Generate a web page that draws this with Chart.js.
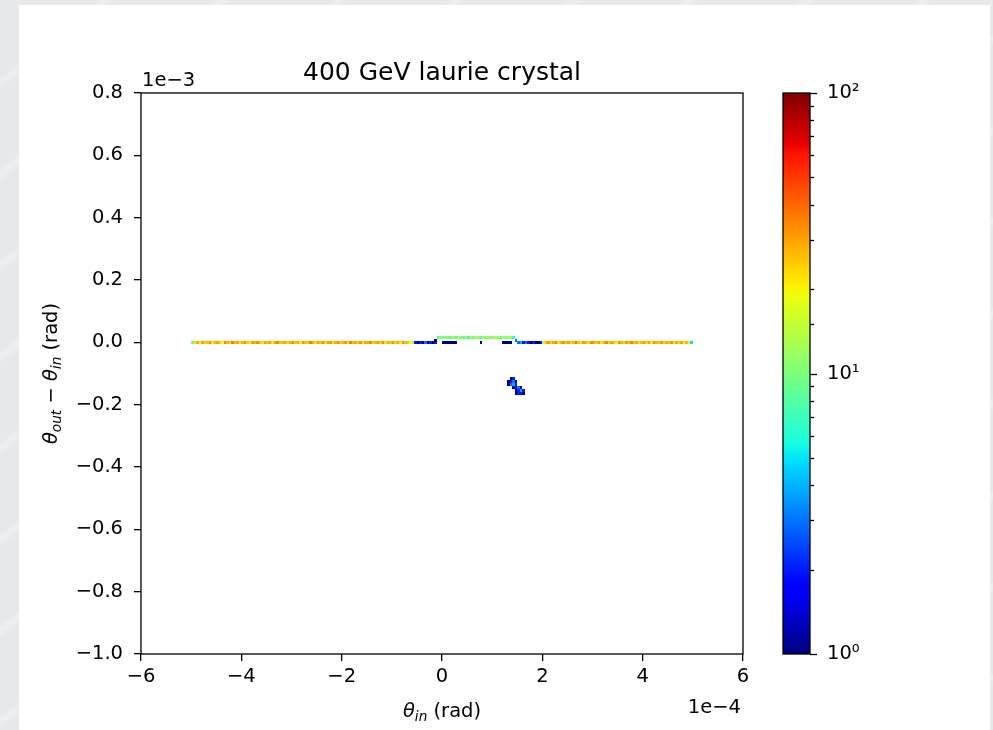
<!DOCTYPE html>
<html>
<head>
<meta charset="utf-8">
<title>400 GeV laurie crystal</title>
<script src="https://cdn.jsdelivr.net/npm/chart.js@4.4.1/dist/chart.umd.min.js"></script>
<style>
  html, body { margin: 0; padding: 0; }
  body {
    width: 993px; height: 730px; overflow: hidden; position: relative;
    background-color: #e7e8ea;
    background-image: repeating-linear-gradient(142deg, #e7e8ea 0px, #e7e8ea 60px, #eeeff0 65px, #e7e8ea 72px);
  }
  #panel { position: absolute; left: 19px; top: 5px; width: 971px; height: 725px; background: #fff; }
  canvas { position: absolute; left: 0; top: 0; }
</style>
</head>
<body>
<div id="panel"></div>
<canvas id="hist" width="993" height="730"></canvas>
<canvas id="cbar" width="993" height="730"></canvas>
<script>
// histogram bins: theta_in in units of 1e-4 rad, deflection in units of 1e-3 rad
const xBinStart = -5;
const xBinWidth = 0.05;
const yBinHeight = 0.01;

// main channel row (deflection ~ 0), one count per theta_in bin, 200 bins
const stripRowY = 0.0;
const stripCounts = [
   9, 22, 28, 19, 31, 24, 26, 33, 21, 27,
  30, 25, 19, 34, 28, 23, 36, 26, 29, 22,
  27, 33, 24, 20, 31, 28, 35, 25, 22, 30,
  26, 32, 21, 29, 36, 24, 27, 31, 23, 28,
  34, 25, 29, 20, 33, 27, 24, 37, 28, 22,
  30, 26, 35, 23, 29, 32, 21, 28, 34, 25,
  27, 31, 22, 36, 26, 29, 24, 33, 20, 30,
  28, 35, 23, 27, 31, 25, 34, 22, 29, 26,
  32, 24, 30, 21, 33, 27, 25, 19, 14,  2,
   1,  2,  1,  3,  1,  2,  1,  2,  0,  0,
   1,  1,  1,  1,  1,  1,  0,  0,  0,  0,
   0,  0,  0,  0,  0,  1,  0,  0,  0,  0,
   0,  0,  0,  0,  1,  1,  1,  1,  0,  0,
   3,  4,  2,  3,  2,  1,  2,  1,  1,  2,
  16, 27, 31, 24, 29, 35, 22, 28, 33, 25,
  30, 23, 27, 36, 26, 21, 32, 28, 24, 34,
  29, 25, 31, 22, 27, 35, 24, 30, 26, 20,
  33, 28, 23, 31, 26, 36, 25, 29, 22, 27,
  32, 24, 30, 21, 34, 27, 25, 31, 23, 28,
  26, 33, 22, 29, 24, 30, 20, 27, 18,  5
];

// channeled row just above, starting at bin 98
const upperRowY = 0.015;
const upperRowFirstBin = 98;
const upperRowCounts = [
   7, 11, 10, 12,  9, 10, 13,  8, 12, 11,
   9, 13,  7, 12, 10, 13, 11,  8, 12, 10,
  13,  9, 12, 14, 11,  8, 12, 10, 13, 11, 6
];

// single cells joining the two rows
const stepRowY = 0.005;
const stepBins = [97, 129];
const stepCounts = [1, 3];

// small volume-reflection cluster below the channel
const clusterX = [
  1.375, 1.425,
  1.325, 1.375, 1.425, 1.475,
  1.325, 1.375, 1.425, 1.475,
  1.425, 1.475, 1.525, 1.575,
  1.475, 1.525, 1.575, 1.625,
  1.475, 1.525, 1.575, 1.625
];
const clusterY = [
  -0.115, -0.115,
  -0.125, -0.125, -0.125, -0.125,
  -0.135, -0.135, -0.135, -0.135,
  -0.145, -0.145, -0.145, -0.145,
  -0.155, -0.155, -0.155, -0.155,
  -0.165, -0.165, -0.165, -0.165
];
const clusterCounts = [
  1, 2,
  1, 2, 3, 1,
  1, 3, 4, 2,
  1, 2, 3, 1,
  1, 2, 4, 2,
  1, 2, 2, 1
];

// axis ticks
const xTicks = [-6, -4, -2, 0, 2, 4, 6];
const yTicks = [-1.0, -0.8, -0.6, -0.4, -0.2, 0.0, 0.2, 0.4, 0.6, 0.8];
const cbarMin = 1, cbarMax = 100;

const binCenter = i => xBinStart + xBinWidth * (i + 0.5);

const cells = [];
stripCounts.forEach((v, i) => { if (v > 0) cells.push({ x: binCenter(i), y: stripRowY, v }); });
upperRowCounts.forEach((v, i) => { if (v > 0) cells.push({ x: binCenter(upperRowFirstBin + i), y: upperRowY, v }); });
stepBins.forEach((b, i) => cells.push({ x: binCenter(b), y: stepRowY, v: stepCounts[i] }));
clusterX.forEach((x, i) => cells.push({ x, y: clusterY[i], v: clusterCounts[i] }));

// matplotlib "jet" segment data
const JET = {
  r: [[0, 0], [0.35, 0], [0.66, 1], [0.89, 1], [1, 0.5]],
  g: [[0, 0], [0.125, 0], [0.375, 1], [0.64, 1], [0.91, 0], [1, 0]],
  b: [[0, 0.5], [0.11, 1], [0.34, 1], [0.65, 0], [1, 0]]
};
function seg(pts, t) {
  for (let k = 1; k < pts.length; k++) {
    if (t <= pts[k][0]) {
      const [t0, v0] = pts[k - 1], [t1, v1] = pts[k];
      return v0 + (v1 - v0) * (t - t0) / (t1 - t0);
    }
  }
  return pts[pts.length - 1][1];
}
function jet(v) {
  let t = Math.log10(v / cbarMin) / Math.log10(cbarMax / cbarMin);
  t = Math.min(1, Math.max(0, t));
  const c = k => Math.round(255 * seg(JET[k], t));
  return `rgb(${c('r')},${c('g')},${c('b')})`;
}

const FONT = '"DejaVu Sans", sans-serif';
const TICK_SIZE = 19.5;
const minus = s => String(s).replace('-', '\u2212');

// text with italic math symbols and subscripts
function drawMath(ctx, parts, size, cx, cy, angle) {
  const fontFor = p => `${p.it ? 'italic ' : ''}${p.sub ? size * 0.7 : size}px ${FONT}`;
  let total = 0;
  parts.forEach(p => { ctx.font = fontFor(p); p.w = ctx.measureText(p.t).width; total += p.w; });
  ctx.save();
  ctx.fillStyle = '#000';
  ctx.translate(cx, cy);
  ctx.rotate(angle);
  ctx.textAlign = 'left';
  ctx.textBaseline = 'alphabetic';
  let x = -total / 2;
  parts.forEach(p => {
    ctx.font = fontFor(p);
    ctx.fillText(p.t, x, p.sub ? size * 0.22 : 0);
    x += p.w;
  });
  ctx.restore();
}

const histCells = {
  id: 'histCells',
  afterDatasetsDraw(chart) {
    const { ctx, chartArea: a } = chart;
    const xs = chart.scales.x, ys = chart.scales.y;
    ctx.save();
    ctx.beginPath();
    ctx.rect(a.left, a.top, a.right - a.left, a.bottom - a.top);
    ctx.clip();
    chart.data.datasets[0].data.forEach(p => {
      const x0 = Math.round(xs.getPixelForValue(p.x - xBinWidth / 2));
      const x1 = Math.round(xs.getPixelForValue(p.x + xBinWidth / 2));
      const y0 = Math.round(ys.getPixelForValue(p.y + yBinHeight / 2));
      const y1 = Math.round(ys.getPixelForValue(p.y - yBinHeight / 2));
      ctx.fillStyle = jet(p.v);
      ctx.fillRect(x0, y0, x1 - x0, y1 - y0);
    });
    ctx.restore();
  },
  afterDraw(chart) {
    const { ctx, chartArea: a } = chart;
    ctx.save();
    ctx.strokeStyle = '#000';
    ctx.lineWidth = 1.3;
    ctx.strokeRect(a.left, a.top, a.right - a.left, a.bottom - a.top);
    ctx.fillStyle = '#000';
    ctx.textBaseline = 'alphabetic';
    ctx.font = `25px ${FONT}`;
    ctx.textAlign = 'center';
    ctx.fillText('400 GeV laurie crystal', (a.left + a.right) / 2, a.top - 13);
    ctx.font = `${TICK_SIZE}px ${FONT}`;
    ctx.textAlign = 'left';
    ctx.fillText('1e\u22123', a.left + 1, a.top - 7);
    ctx.textAlign = 'right';
    ctx.fillText('1e\u22124', a.right - 2, a.bottom + 59);
    ctx.restore();
    drawMath(ctx, [{ t: '\u03b8', it: true }, { t: 'in', it: true, sub: true }, { t: ' (rad)' }],
      TICK_SIZE, (a.left + a.right) / 2, a.bottom + 63, 0);
    drawMath(ctx, [{ t: '\u03b8', it: true }, { t: 'out', it: true, sub: true }, { t: ' \u2212 ' },
      { t: '\u03b8', it: true }, { t: 'in', it: true, sub: true }, { t: ' (rad)' }],
      TICK_SIZE, 57, (a.top + a.bottom) / 2, -Math.PI / 2);
  }
};

const tickGrid = { display: true, drawOnChartArea: false, drawTicks: true, tickLength: 7, color: '#000', lineWidth: 1.3 };

new Chart(document.getElementById('hist'), {
  type: 'scatter',
  data: { datasets: [{ data: cells, pointRadius: 0, pointHoverRadius: 0 }] },
  options: {
    responsive: false,
    animation: false,
    events: [],
    layout: { padding: { left: 61, top: 93, right: 250, bottom: 36 } },
    plugins: { legend: { display: false }, tooltip: { enabled: false } },
    scales: {
      x: {
        type: 'linear', min: xTicks[0], max: xTicks[xTicks.length - 1],
        afterFit: s => { s.height = 40; },
        afterBuildTicks: s => { s.ticks = xTicks.map(value => ({ value })); },
        ticks: { color: '#000', font: { family: FONT, size: TICK_SIZE }, padding: 4, maxRotation: 0,
                 callback: v => minus(v) },
        grid: tickGrid,
        border: { display: false }
      },
      y: {
        type: 'linear', min: yTicks[0], max: yTicks[yTicks.length - 1],
        afterFit: s => { s.width = 80; },
        afterBuildTicks: s => { s.ticks = yTicks.map(value => ({ value })); },
        ticks: { color: '#000', font: { family: FONT, size: TICK_SIZE }, padding: 11,
                 callback: v => minus((Math.abs(v) < 1e-9 ? 0 : v).toFixed(1)) },
        grid: tickGrid,
        border: { display: false }
      }
    }
  },
  plugins: [histCells]
});

// colour bar on a logarithmic count axis
const sup = { 0: '\u2070', 1: '\u00b9', 2: '\u00b2' };
const cbarFill = {
  id: 'cbarFill',
  afterDraw(chart) {
    const { ctx, chartArea: a } = chart;
    const ys = chart.scales.y;
    ctx.save();
    for (let py = Math.floor(a.top); py < a.bottom; py++) {
      ctx.fillStyle = jet(ys.getValueForPixel(py + 0.5));
      ctx.fillRect(a.left, py, a.right - a.left, 1);
    }
    ctx.strokeStyle = '#000';
    ctx.lineWidth = 1.3;
    ys.ticks.forEach(t => {
      const py = Math.round(ys.getPixelForValue(t.value)) + 0.5;
      const major = Math.abs(Math.log10(t.value) - Math.round(Math.log10(t.value))) < 1e-9;
      ctx.beginPath();
      ctx.moveTo(a.right, py);
      ctx.lineTo(a.right + (major ? 7 : 4), py);
      ctx.stroke();
    });
    ctx.strokeRect(a.left, a.top, a.right - a.left, a.bottom - a.top);
    ctx.restore();
  }
};

new Chart(document.getElementById('cbar'), {
  type: 'scatter',
  data: { datasets: [] },
  options: {
    responsive: false,
    animation: false,
    events: [],
    layout: { padding: { left: 783, top: 93, right: 0, bottom: 76 } },
    plugins: { legend: { display: false }, tooltip: { enabled: false } },
    scales: {
      x: { display: false, min: 0, max: 1 },
      y: {
        type: 'logarithmic', position: 'right', min: cbarMin, max: cbarMax,
        afterFit: s => { s.width = 183; },
        ticks: { color: '#000', font: { family: FONT, size: TICK_SIZE }, padding: 17, autoSkip: false,
                 callback: v => {
                   const e = Math.log10(v);
                   return Math.abs(e - Math.round(e)) < 1e-9 ? '10' + sup[Math.round(e)] : '';
                 } },
        grid: { display: false, drawTicks: false },
        border: { display: false }
      }
    }
  },
  plugins: [cbarFill]
});
</script>
</body>
</html>
